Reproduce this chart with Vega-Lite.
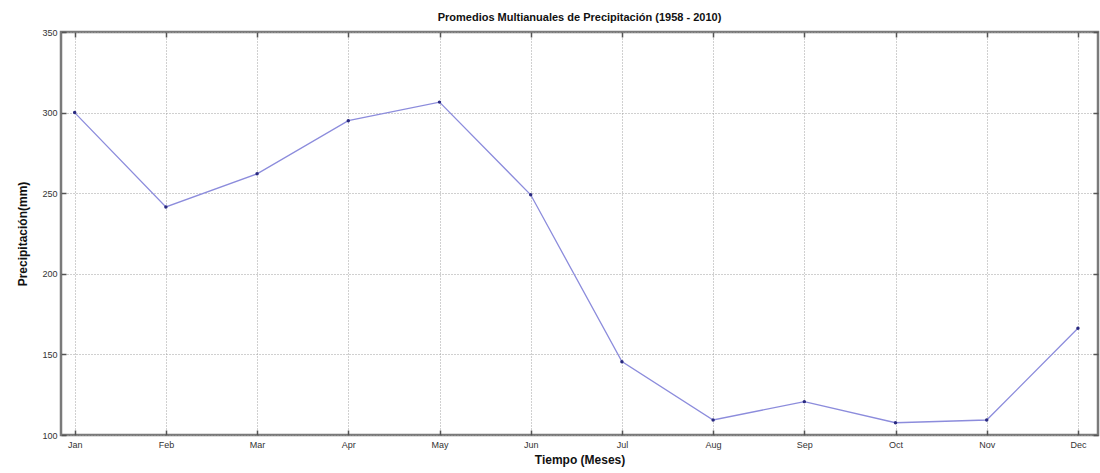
{
  "$schema": "https://vega.github.io/schema/vega-lite/v6.json",
  "width": 1037,
  "height": 403,
  "autosize": "none",
  "padding": {"left": 61, "top": 32, "right": 2, "bottom": 38},
  "background": "white",
  "config": {
    "font": "Liberation Sans",
    "view": {"stroke": "#7a7a7a", "strokeWidth": 2.5},
    "axis": {
      "grid": true,
      "gridColor": "#a0a0a0",
      "gridDash": [1, 2],
      "gridWidth": 1,
      "domain": false,
      "tickColor": "#555",
      "tickSize": -5,
      "tickWidth": 1.5,
      "labelFont": "Liberation Sans",
      "labelFontSize": 9,
      "labelColor": "#333",
      "titleFont": "Liberation Sans",
      "titleFontWeight": "bold",
      "titleFontSize": 12,
      "titleColor": "#111"
    }
  },
  "title": {
    "text": "Promedios Multianuales de Precipitación (1958 - 2010)",
    "fontSize": 11,
    "fontWeight": "bold",
    "color": "#111",
    "font": "Liberation Sans",
    "anchor": "middle",
    "offset": 5
  },
  "data": {
    "values": [
      {"mes": 1, "precip": 300},
      {"mes": 2, "precip": 241.5},
      {"mes": 3, "precip": 262},
      {"mes": 4, "precip": 295},
      {"mes": 5, "precip": 306.5},
      {"mes": 6, "precip": 249},
      {"mes": 7, "precip": 145.5},
      {"mes": 8, "precip": 109.3},
      {"mes": 9, "precip": 120.7},
      {"mes": 10, "precip": 107.6},
      {"mes": 11, "precip": 109.3},
      {"mes": 12, "precip": 166.2}
    ]
  },
  "layer": [
    {
      "mark": {"type": "line", "color": "#8c8cdc", "strokeWidth": 1.3},
      "encoding": {
        "x": {
          "field": "mes",
          "type": "quantitative",
          "scale": {"domain": [0.85, 12.22], "nice": false, "zero": false},
          "axis": {
            "orient": "bottom",
            "values": [1, 2, 3, 4, 5, 6, 7, 8, 9, 10, 11, 12],
            "labelExpr": "['Jan','Feb','Mar','Apr','May','Jun','Jul','Aug','Sep','Oct','Nov','Dec'][datum.value - 1]",
            "labelPadding": 10,
            "title": "Tiempo (Meses)",
            "titlePadding": 5
          }
        },
        "y": {
          "field": "precip",
          "type": "quantitative",
          "scale": {"domain": [100, 350], "nice": false, "zero": false},
          "axis": {
            "orient": "left",
            "values": [100, 150, 200, 250, 300, 350],
            "labelPadding": 9,
            "title": "Precipitación(mm)",
            "titlePadding": 12
          }
        }
      }
    },
    {
      "mark": {"type": "point", "filled": true, "color": "#2a2a80", "size": 12, "opacity": 1},
      "encoding": {
        "x": {
          "field": "mes",
          "type": "quantitative",
          "axis": {
            "orient": "top",
            "values": [1, 2, 3, 4, 5, 6, 7, 8, 9, 10, 11, 12],
            "labels": false,
            "grid": false,
            "title": null
          }
        },
        "y": {
          "field": "precip",
          "type": "quantitative",
          "axis": {
            "orient": "right",
            "values": [100, 150, 200, 250, 300, 350],
            "labels": false,
            "grid": false,
            "title": null
          }
        }
      }
    }
  ],
  "resolve": {"axis": {"x": "independent", "y": "independent"}}
}
